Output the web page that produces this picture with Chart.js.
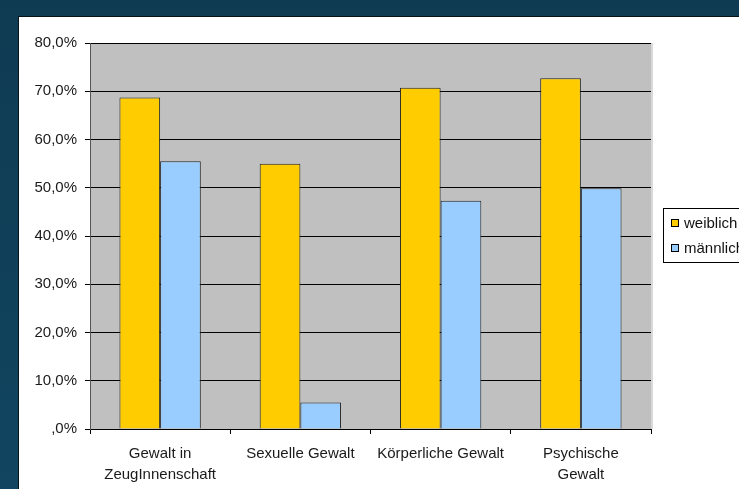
<!DOCTYPE html>
<html lang="de">
<head>
<meta charset="utf-8">
<title>Gewalterfahrungen nach Geschlecht</title>
<script src="https://cdn.jsdelivr.net/npm/chart.js@4.4.1/dist/chart.umd.min.js"></script>
<style>
  html, body {
    margin: 0;
    width: 739px;
    height: 489px;
    overflow: hidden;
    background: linear-gradient(180deg, #0f3b52 0%, #114560 100%);
  }
  .panel {
    position: absolute;
    left: 18px;
    top: 16px;
    width: 800px;
    height: 500px;
    background: #ffffff;
    border-top: 1px solid #06141c;
    border-left: 1px solid #06141c;
  }
  .panel canvas {
    position: absolute;
    left: 0;
    top: 0;
  }
</style>
</head>
<body>
<div class="panel">
  <canvas id="myChart" width="800" height="472"></canvas>
</div>
<script>
var categories = [
  ["Gewalt in", "ZeugInnenschaft"],
  "Sexuelle Gewalt",
  "Körperliche Gewalt",
  ["Psychische", "Gewalt"]
];
var weiblich = [68.7, 55.0, 70.7, 72.7];
var maennlich = [55.5, 5.5, 47.3, 49.9];
var seriesNames = ["weiblich", "männlich"];
var yTicks = [0, 10, 20, 30, 40, 50, 60, 70, 80];

var labelFont = { family: "'Liberation Sans', Arial, sans-serif", size: 15 };

// grey plot area behind the bars
var plotBackground = {
  id: "plotBackground",
  beforeDraw: function (chart) {
    var a = chart.chartArea;
    var c = chart.ctx;
    c.save();
    c.fillStyle = "#c0c0c0";
    c.fillRect(a.left, a.top, a.right - a.left, a.bottom - a.top);
    c.strokeStyle = "#d9d9d9";
    c.lineWidth = 2;
    c.beginPath();
    c.moveTo(a.right + 1, a.top);
    c.lineTo(a.right + 1, a.bottom);
    c.stroke();
    c.restore();
  }
};

// boxed legend to the right of the plot
var boxLegend = {
  id: "boxLegend",
  afterDraw: function (chart, args, opts) {
    var c = chart.ctx;
    var x = chart.chartArea.right + opts.gap;
    var y = opts.top;
    c.save();
    c.fillStyle = "#ffffff";
    c.fillRect(x, y, opts.width, opts.height);
    c.strokeStyle = "#000000";
    c.lineWidth = 1;
    c.strokeRect(x + 0.5, y + 0.5, opts.width, opts.height);
    c.font = labelFont.size + "px " + labelFont.family;
    c.textBaseline = "middle";
    chart.data.datasets.forEach(function (ds, i) {
      var cy = y + opts.firstRow + i * opts.rowGap;
      c.fillStyle = ds.backgroundColor;
      c.fillRect(x + 8, cy - 4, 8, 8);
      c.strokeStyle = "#000000";
      c.strokeRect(x + 8.5, cy - 3.5, 7, 7);
      c.fillStyle = "#111111";
      c.fillText(ds.label, x + 21, cy + 1);
    });
    c.restore();
  }
};

var ctx = document.getElementById("myChart");
var myChart = new Chart(ctx, {
  type: "bar",
  data: {
    labels: categories,
    datasets: [
      {
        label: seriesNames[0],
        data: weiblich,
        backgroundColor: "#ffcc00",
        borderColor: "#222222",
        borderWidth: 1,
        borderSkipped: "bottom"
      },
      {
        label: seriesNames[1],
        data: maennlich,
        backgroundColor: "#99ccff",
        borderColor: "#222222",
        borderWidth: 1,
        borderSkipped: "bottom"
      }
    ]
  },
  options: {
    responsive: false,
    animation: false,
    layout: { padding: { left: 0, top: 26, right: 168, bottom: 0 } },
    datasets: {
      bar: { categoryPercentage: 0.58, barPercentage: 1.0 }
    },
    plugins: {
      legend: { display: false },
      tooltip: { enabled: false },
      boxLegend: { gap: 12, top: 191, width: 110, height: 54, firstRow: 15, rowGap: 25 }
    },
    scales: {
      x: {
        afterFit: function (scale) { scale.height = 60; },
        grid: {
          offset: true,
          drawOnChartArea: false,
          tickLength: 5,
          color: "#000000"
        },
        border: { color: "#000000", width: 1 },
        ticks: {
          color: "#1a1a1a",
          padding: 9,
          maxRotation: 0,
          autoSkip: false,
          font: Object.assign({ lineHeight: 1.4 }, labelFont)
        }
      },
      y: {
        min: 0,
        max: 80,
        afterFit: function (scale) { scale.width = 71; },
        afterBuildTicks: function (scale) {
          scale.ticks = yTicks.map(function (v) { return { value: v }; });
        },
        grid: {
          tickLength: 5,
          color: "#000000",
          lineWidth: 1
        },
        border: { color: "#555555", width: 1 },
        ticks: {
          color: "#1a1a1a",
          padding: 8,
          font: labelFont,
          callback: function (v) {
            return v === 0 ? ",0%" : v.toFixed(1).replace(".", ",") + "%";
          }
        }
      }
    }
  },
  plugins: [plotBackground, boxLegend]
});
</script>
</body>
</html>
